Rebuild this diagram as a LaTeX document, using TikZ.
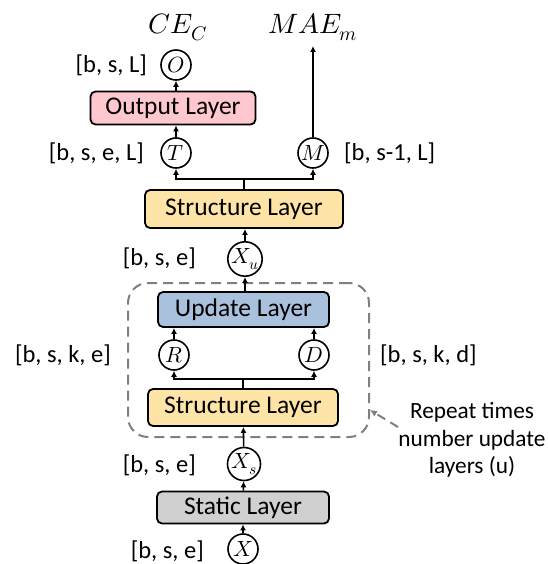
\documentclass[tikz,border=0pt]{standalone}
\usepackage{fontspec}
\usepackage{unicode-math}
\setmainfont{Carlito}
\setmathfont{Latin Modern Math}
\usetikzlibrary{arrows.meta}
\definecolor{outfill}{RGB}{255,199,206}
\definecolor{strfill}{RGB}{255,228,168}
\definecolor{updfill}{RGB}{170,193,222}
\definecolor{stafill}{RGB}{208,208,208}
\definecolor{dashgray}{RGB}{128,128,128}
\tikzset{
  layer/.style={draw, line width=1.8pt, rounded corners=5pt, inner sep=0pt,
    font=\fontsize{25.5}{28}\selectfont},
  var/.style={draw, circle, line width=1.6pt, minimum size=30pt, inner sep=0pt,
    font=\fontsize{22}{22}\selectfont},
  dim/.style={font=\fontsize{24.5}{28}\selectfont, inner sep=0pt},
  mathlbl/.style={font=\fontsize{28}{30}\selectfont, inner sep=0pt},
  arr/.style={line width=1.6pt, -{Latex[length=6pt,width=6pt]}},
  ln/.style={line width=1.6pt},
}
\begin{document}
\begin{tikzpicture}[x=1pt,y=-1pt]
\useasboundingbox (0,0) rectangle (547,564);
% layers
\node[layer, fill=outfill, minimum width=165pt, minimum height=33pt] (outl) at (173,108) {Output Layer};
\node[layer, fill=strfill, minimum width=198pt, minimum height=38pt] (st1) at (244,209) {Structure Layer};
\node[layer, fill=updfill, minimum width=171pt, minimum height=35pt] (upd) at (243.5,309.5) {Update Layer};
\node[layer, fill=strfill, minimum width=190pt, minimum height=37pt] (st2) at (243,407.5) {Structure Layer};
\node[layer, fill=stafill, minimum width=172pt, minimum height=32pt] (sta) at (243,507.5) {Static Layer};
% variables
\node[var] (O) at (176,65) {$O$};
\node[var] (T) at (176,153) {$T$};
\node[var] (M) at (313,153) {$M$};
\node[var] (Xu) at (245,259) {$X_u$};
\node[var] (R) at (174,355) {$R$};
\node[var] (D) at (314,355) {$D$};
\node[var] (Xs) at (244,464) {$X_s$};
\node[var] (X) at (243,549) {$X$};
% outputs
\node[mathlbl] (ce) at (178,27) {$CE_C$};
\node[mathlbl] (mae) at (313,27) {$MAE_m$};
\coordinate (maetip) at (313,46);
% dimension labels
\node[dim, anchor=east] (lO) at (147,65) {[b, s, L]};
\node[dim, anchor=east] (lT) at (144,153) {[b, s, e, L]};
\node[dim, anchor=west] (lM) at (344,153) {[b, s-1, L]};
\node[dim, anchor=east] (lXu) at (196,258) {[b, s, e]};
\node[dim, anchor=east] (lR) at (111,355) {[b, s, k, e]};
\node[dim, anchor=west] (lD) at (380,355) {[b, s, k, d]};
\node[dim, anchor=east] (lXs) at (196,465) {[b, s, e]};
\node[dim, anchor=east] (lX) at (204,551) {[b, s, e]};
% repeat box
\node[draw=dashgray, dashed, dash pattern=on 10pt off 6pt, line width=2pt, rounded corners=20pt,
  minimum width=241pt, minimum height=154pt] (rep) at (248.5,360) {};
\node[font=\fontsize{23.3}{27.5}\selectfont, align=center, inner sep=0pt] (note) at (472,440)
  {Repeat times\\number update\\layers (u)};
\coordinate (notefrom) at (398,427);
\coordinate (noteto) at (370,410);
\draw[dashgray, line width=2pt, dash pattern=on 9pt off 6pt, -{Latex[length=7pt,width=7pt]}] (notefrom) -- (noteto);
% connectors
\draw[arr] (X) -- (sta);
\draw[arr] (sta) -- (Xs);
\draw[arr] (Xs) -- (st2);
\coordinate (b2) at (243,379);
\draw[ln] (st2.north) -- (b2);
\draw[arr] (b2) -| (R.south);
\draw[arr] (b2) -| (D.south);
\draw[arr] (R.north) -- (R.north |- upd.south);
\draw[arr] (D.north) -- (D.north |- upd.south);
\draw[arr] (upd.north -| Xu) -- (Xu.south);
\draw[arr] (Xu.north) -- (Xu.north |- st1.south);
\coordinate (b1) at (244,179);
\draw[ln] (st1.north) -- (b1);
\draw[arr] (b1) -| (T.south);
\draw[arr] (b1) -| (M.south);
\draw[arr] (T.north) -- (T.north |- outl.south);
\draw[arr] (outl.north -| O) -- (O.south);
\draw[arr] (M.north) -- (maetip);
\end{tikzpicture}
\end{document}
